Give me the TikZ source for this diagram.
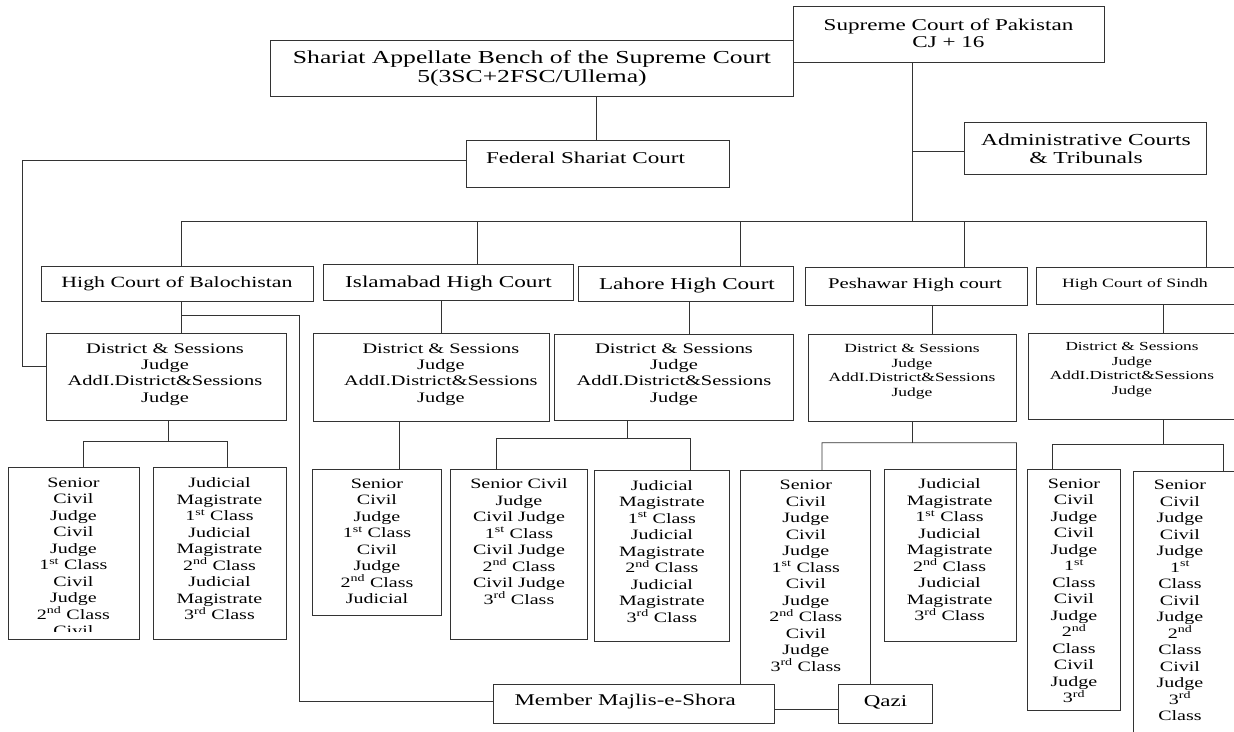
\documentclass[tikz,border=0pt]{standalone}
\usepackage{fontspec}
\setmainfont{Liberation Serif}[FakeStretch=1.4]
\tikzset{
  ln/.style={line width=0.9pt, draw=black!80},
  box/.style={ln, rectangle, fill=white, inner sep=0pt, outer sep=0pt},
  txt/.style={inner sep=0pt, align=center, text=black},
  fs/.style 2 args={font=\fontsize{#1}{#2}\selectfont},
  sm/.style={txt, anchor=north, fs={14.3}{16.5}},
}
\newcommand\bx[6][]{\node[box,minimum width={(#5)-(#3)},minimum height={(#6)-(#4)},#1] (#2) at ({((#3)+(#5))/2},{((#4)+(#6))/2}) {};}
\newcommand\st[1]{#1\textsuperscript{st}}
\newcommand\nd[1]{#1\textsuperscript{nd}}
\newcommand\rd[1]{#1\textsuperscript{rd}}
\begin{document}
\begin{tikzpicture}[x=1pt,y=-1pt]
\clip (0,0) rectangle (1234,731);
\fill[white] (0,0) rectangle (1234,731);
% junction coordinates
\coordinate (busL) at (181,221.7);
\coordinate (busR) at (1206.5,221.7);
\coordinate (j0) at (912,221.7);
% top connectors
\draw[ln] (busL) -- (busR);
% boxes
\bx{sc}{793}{6}{1104}{62}
\bx{sab}{270}{40.7}{793}{96.7}
\bx{fsc}{466}{140.7}{729}{187.7}
\bx{adm}{964}{122}{1206.5}{174}
\bx{hcB}{41.7}{266}{313.3}{301.3}
\bx{hcI}{323.5}{264.7}{573}{300.3}
\bx{hcL}{578.5}{266.7}{793}{301.7}
\bx{hcP}{805.8}{267.3}{1027.4}{305}
\bx{hcS}{1036.7}{267.7}{1245}{304.3}
\bx{dsB}{46.7}{333.3}{286.7}{420}
\bx{dsI}{313}{333.3}{549.6}{421}
\bx{dsL}{554.8}{334}{793}{420.7}
\bx{dsP}{808}{334}{1016.5}{421.7}
\bx{dsS}{1028.3}{333.3}{1245}{419.3}
\bx{b1}{8.7}{467.7}{139.2}{639.3}
\bx{b2}{153.4}{467.7}{286.3}{639.3}
\bx{i1}{312.8}{469}{441.3}{615}
\bx{l1}{450.8}{469}{587.2}{639.3}
\bx{l2}{594}{470.7}{729.4}{641}
\bx[draw=none]{p1}{740.7}{470.7}{870.5}{684.3}
\draw[ln] (p1.south west) -- (p1.north west) -- (p1.north east) -- (p1.south east);
\bx{p2}{884.3}{469}{1016.5}{641}
\bx{s1}{1027.3}{469}{1120.7}{710}
\bx{s2}{1133.3}{471.7}{1245}{745}
\bx{mm}{493.5}{684.3}{774.7}{723.3}
\bx{qz}{838.2}{684.3}{932.8}{723.3}
% connectors
\draw[ln] (sab.south -| 596,0) -- (fsc.north -| 596,0);
\draw[ln] (sc.south -| j0) -- (j0);
\draw[ln] (j0 |- 0,151.7) -- (adm.west |- 0,151.7);
\draw[ln] (fsc.west |- 0,160) -| (22.5,366.7) -- (dsB.west |- 0,366.7);
\draw[ln] (busL) -- (hcB.north -| busL);
\draw[ln] (477.6,221.7) -- (hcI.north -| 477.6,0);
\draw[ln] (740,221.7) -- (hcL.north -| 740,0);
\draw[ln] (964,221.7) -- (hcP.north -| 964,0);
\draw[ln] (busR) -- (hcS.north -| busR);
\draw[ln] (hcB.south -| busL) -- (dsB.north -| busL);
\draw[ln] (181,315) -| (299,701.7) -- (mm.west |- 0,701.7);
\draw[ln] (hcI.south -| 441.7,0) -- (dsI.north -| 441.7,0);
\draw[ln] (hcL.south -| 689.8,0) -- (dsL.north -| 689.8,0);
\draw[ln] (hcP.south -| 932.8,0) -- (dsP.north -| 932.8,0);
\draw[ln] (hcS.south -| 1163.3,0) -- (dsS.north -| 1163.3,0);
\draw[ln] (dsB.south -| 168.8,0) -- (168.8,441.7);
\draw[ln] (b1.north -| 83.4,0) |- (227,441.7) -- (b2.north -| 227,0);
\draw[ln] (dsI.south -| 399.4,0) -- (i1.north -| 399.4,0);
\draw[ln] (dsL.south -| 627.5,0) -- (627.5,438.3);
\draw[ln] (l1.north -| 496.2,0) |- (690,438.3) -- (l2.north -| 690,0);
\draw[ln] (dsP.south -| 912,0) -- (912,442.7);
\draw[ln] (p1.north -| 822,0) |- (1016.5,442.7) -- (p2.north east);
\draw[ln] (dsS.south -| 1163.3,0) -- (1163.3,444);
\draw[ln] (s1.north -| 1052.7,0) |- (1223.3,444) -- (s2.north -| 1223.3,0);
\draw[ln] (mm.east |- 0,709) -- (qz.west |- 0,709);
% texts
\node[txt,fs={16.5}{17.5}] (tsc) at (948.5,33.5) {Supreme Court of Pakistan\\CJ + 16};
\node[txt,fs={18.3}{18.5}] (tsab) at (532,68.5) {Shariat Appellate Bench of the Supreme Court\\5(3SC+2FSC/Ullema)};
\node[txt,fs={16.5}{18}] (tfsc) at (585.5,158) {Federal Shariat Court};
\node[txt,fs={16.8}{18}] (tadm) at (1086,148.5) {Administrative Courts\\\& Tribunals};
\node[txt,fs={15.6}{18}] (thcB) at (177,284) {High Court of Balochistan};
\node[txt,fs={16.6}{18}] (thcI) at (448.5,283.5) {Islamabad High Court};
\node[txt,fs={16.5}{18}] (thcL) at (687,285.5) {Lahore High Court};
\node[txt,fs={14.8}{18}] (thcP) at (915,285) {Peshawar High court};
\node[txt,fs={12.7}{18}] (thcS) at (1135,284) {High Court of Sindh};
\node[txt,fs={14.6}{16.3}] (tdsB) at (165,374.5) {District \& Sessions\\Judge\\AddI.District\&Sessions\\Judge};
\node[txt,fs={14.5}{16.3}] (tdsI) at (440.9,374.5) {District \& Sessions\\Judge\\AddI.District\&Sessions\\Judge};
\node[txt,fs={14.6}{16.3}] (tdsL) at (674,374.5) {District \& Sessions\\Judge\\AddI.District\&Sessions\\Judge};
\node[txt,fs={12.5}{14.4}] (tdsP) at (912,371.6) {District \& Sessions\\Judge\\AddI.District\&Sessions\\Judge};
\node[txt,fs={12.3}{14.4}] (tdsS) at (1132,369.8) {District \& Sessions\\Judge\\AddI.District\&Sessions\\Judge};
\begin{scope}
\clip (8.7,467.7) rectangle (139.2,631.5);
\node[sm] (tb1) at (73.4,477.5) {Senior\\Civil\\Judge\\Civil\\Judge\\\st{1} Class\\Civil\\Judge\\\nd{2} Class\\Civil};
\end{scope}
\node[sm] (tb2) at (219.5,477.5) {Judicial\\Magistrate\\\st{1} Class\\Judicial\\Magistrate\\\nd{2} Class\\Judicial\\Magistrate\\\rd{3} Class};
\node[sm] (ti1) at (377,478.5) {Senior\\Civil\\Judge\\\st{1} Class\\Civil\\Judge\\\nd{2} Class\\Judicial};
\node[sm] (tl1) at (519,478.5) {Senior Civil\\Judge\\Civil Judge\\\st{1} Class\\Civil Judge\\\nd{2} Class\\Civil Judge\\\rd{3} Class};
\node[sm] (tl2) at (661.9,480) {Judicial\\Magistrate\\\st{1} Class\\Judicial\\Magistrate\\\nd{2} Class\\Judicial\\Magistrate\\\rd{3} Class};
\node[sm] (tp1) at (805.8,480) {Senior\\Civil\\Judge\\Civil\\Judge\\\st{1} Class\\Civil\\Judge\\\nd{2} Class\\Civil\\Judge\\\rd{3} Class};
\node[sm] (tp2) at (949.6,478.5) {Judicial\\Magistrate\\\st{1} Class\\Judicial\\Magistrate\\\nd{2} Class\\Judicial\\Magistrate\\\rd{3} Class};
\node[sm] (ts1) at (1074,478.5) {Senior\\Civil\\Judge\\Civil\\Judge\\\st{1}\\Class\\Civil\\Judge\\\nd{2}\\Class\\Civil\\Judge\\\rd{3}};
\node[sm] (ts2) at (1180,480) {Senior\\Civil\\Judge\\Civil\\Judge\\\st{1}\\Class\\Civil\\Judge\\\nd{2}\\Class\\Civil\\Judge\\\rd{3}\\Class};
\node[txt,fs={16.4}{18}] (tmm) at (625.2,702) {Member Majlis-e-Shora};
\node[txt,fs={16.4}{18}] (tqz) at (885.5,702) {Qazi};
\end{tikzpicture}
\end{document}
